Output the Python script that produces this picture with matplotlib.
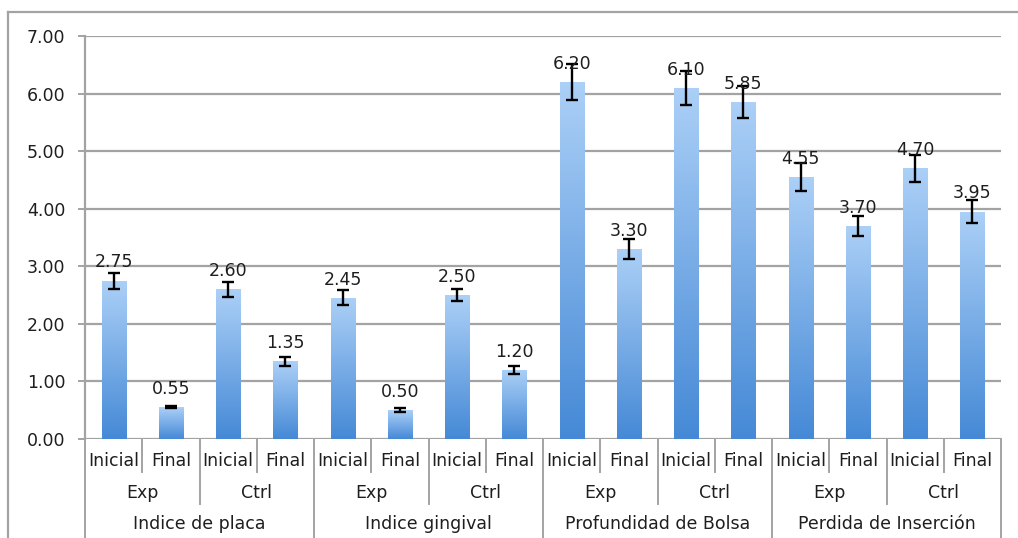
import matplotlib
matplotlib.use('Agg')
import matplotlib.pyplot as plt
import numpy as np
from matplotlib.colors import LinearSegmentedColormap
from matplotlib.lines import Line2D

plt.rcParams['font.family'] = ['DejaVu Sans']

# data
groups = ['Indice de placa', 'Indice gingival', 'Profundidad de Bolsa', 'Perdida de Inserción']
subgroups = ['Exp', 'Ctrl']
stages = ['Inicial', 'Final']
values = [2.75, 0.55, 2.60, 1.35,
          2.45, 0.50, 2.50, 1.20,
          6.20, 3.30, 6.10, 5.85,
          4.55, 3.70, 4.70, 3.95]
errors = [0.14, 0.02, 0.13, 0.08,
          0.13, 0.03, 0.10, 0.07,
          0.31, 0.17, 0.30, 0.28,
          0.24, 0.18, 0.24, 0.20]
yticks = [0, 1, 2, 3, 4, 5, 6, 7]

W, H = 1018, 538
FS = 12.5
TXT = '#1e1e1e'
GRAY = '#a3a3a3'

fig = plt.figure(figsize=(W / 100, H / 100), dpi=100)
ax = fig.add_axes([85 / W, 1 - 439 / H, (1001 - 85) / W, (439 - 36) / H])

x = np.arange(len(values))
grad_cmap = LinearSegmentedColormap.from_list('bar', ['#4589d6', '#acd0f7'])
grad = np.linspace(0, 1, 256).reshape(-1, 1)

for yv in yticks:
    ax.axhline(yv, color=GRAY, lw=1.6, zorder=0)

bars = ax.bar(x, values, width=0.42, facecolor='none', edgecolor='none', zorder=2)
for b in bars:
    x0, y0 = b.get_x(), b.get_y()
    im = ax.imshow(grad, cmap=grad_cmap, origin='lower', aspect='auto',
                   extent=[x0, x0 + b.get_width(), y0, y0 + b.get_height()], zorder=2)
    im.set_clip_path(b)

ax.errorbar(x, values, yerr=errors, fmt='none', ecolor='black', elinewidth=1.7,
            capsize=4.5, capthick=1.7, zorder=3)

for xi, v in zip(x, values):
    ax.annotate(f'{v:.2f}', (xi, v), xytext=(0, 9.5), textcoords='offset points',
                ha='center', va='baseline', fontsize=FS, color=TXT, zorder=4)

ax.set_xlim(-0.5, len(values) - 0.5)
ax.set_ylim(0, 7)
ax.set_yticks(yticks)
ax.set_yticklabels([f'{t:.2f}' for t in yticks], fontsize=FS, color=TXT)
ax.tick_params(axis='y', length=5, width=1.4, color=GRAY, pad=9)
ax.set_xticks([])
for s in ['top', 'right', 'bottom']:
    ax.spines[s].set_visible(False)
ax.spines['left'].set_color(GRAY)
ax.spines['left'].set_linewidth(1.6)

# multi-level category axis below the plot
tr = ax.get_xaxis_transform()
ph = 439 - 36


def yax(pix):
    return -(pix - 439) / ph


n_sub = len(stages)
n_grp = n_sub * len(subgroups)
line_kw = dict(color=GRAY, lw=1.4, transform=tr, clip_on=False)
for i in range(len(values) + 1):
    bx = i - 0.5
    if i % n_grp == 0:
        bottom = 540
    elif i % n_sub == 0:
        bottom = 504
    else:
        bottom = 472
    ax.add_line(Line2D([bx, bx], [yax(439), yax(bottom)], **line_kw))

for i in range(len(values)):
    ax.text(i, yax(461), stages[i % n_sub], transform=tr, ha='center', va='center',
            fontsize=FS, color=TXT)
for j in range(len(values) // n_sub):
    ax.text(j * n_sub + (n_sub - 1) / 2, yax(493), subgroups[j % len(subgroups)],
            transform=tr, ha='center', va='center', fontsize=FS, color=TXT)
for k, g in enumerate(groups):
    ax.text(k * n_grp + (n_grp - 1) / 2, yax(524), g, transform=tr, ha='center',
            va='center', fontsize=FS, color=TXT)

# outer frame (only top and left edges are visible in the crop)
fig.add_artist(Line2D([8 / W, 1.02], [1 - 12 / H, 1 - 12 / H], color=GRAY, lw=1.6))
fig.add_artist(Line2D([8 / W, 8 / W], [-0.02, 1 - 12 / H], color=GRAY, lw=1.6))

fig.savefig('out.png', dpi=100)
